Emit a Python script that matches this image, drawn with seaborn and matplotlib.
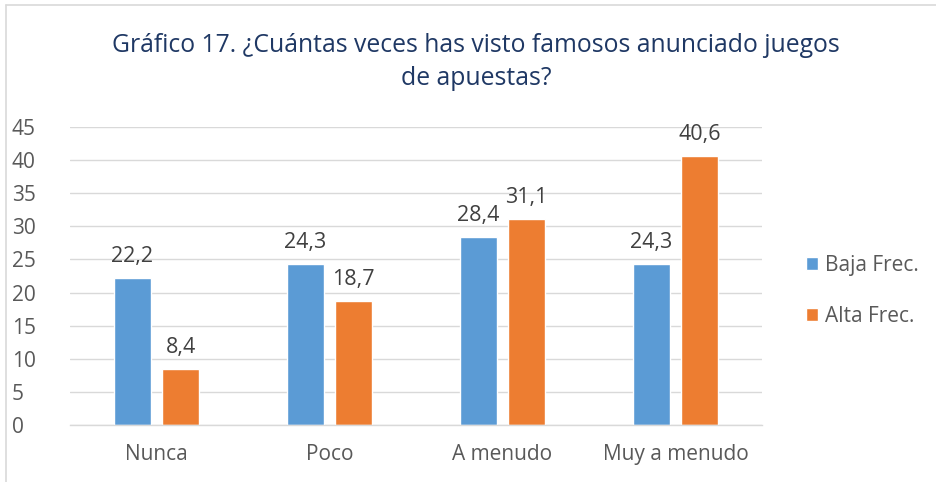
import matplotlib
matplotlib.use("Agg")
import matplotlib.pyplot as plt
import seaborn as sns
import pandas as pd
from matplotlib.lines import Line2D

categories = ["Nunca", "Poco", "A menudo", "Muy a menudo"]
series_names = ["Baja Frec.", "Alta Frec."]
baja = [22.2, 24.3, 28.4, 24.3]
alta = [8.4, 18.7, 31.1, 40.6]
yticks = [0, 5, 10, 15, 20, 25, 30, 35, 40, 45]

df = pd.DataFrame({
    "cat": categories * 2,
    "serie": [series_names[0]] * 4 + [series_names[1]] * 4,
    "val": baja + alta,
})

sns.set_theme(style="white")
plt.rcParams["font.family"] = ["Open Sans", "DejaVu Sans"]

fig = plt.figure(figsize=(9.36, 4.82), dpi=100)
ax = fig.add_axes([70 / 936, 1 - 425 / 482, (762 - 70) / 936, (425 - 127) / 482])

palette = {series_names[0]: "#5B9BD5", series_names[1]: "#ED7D31"}
sns.barplot(data=df, x="cat", y="val", hue="serie", order=categories,
            hue_order=series_names, palette=palette, width=0.56, gap=0.225,
            saturation=1, ax=ax, legend=True)

ax.set_ylim(0, 45)
ax.set_xlim(-0.5, 3.5)
ax.set_yticks(yticks)
ax.set_yticklabels([str(t) for t in yticks])
ax.yaxis.grid(True, color="#D9D9D9", linewidth=1)
ax.set_axisbelow(True)
for s in ["top", "right", "left"]:
    ax.spines[s].set_visible(False)
ax.spines["bottom"].set_color("#D9D9D9")
ax.spines["bottom"].set_linewidth(1)
ax.tick_params(axis="both", length=0, labelsize=15, colors="#595959")
ax.tick_params(axis="y", pad=42)
for lab in ax.get_yticklabels():
    lab.set_horizontalalignment("left")
ax.tick_params(axis="x", pad=14)
ax.set_xlabel("")
ax.set_ylabel("")

for cont in ax.containers:
    labels = [f"{v:.1f}".replace(".", ",") for v in cont.datavalues]
    ax.bar_label(cont, labels=labels, padding=8, fontsize=15.5, color="#404040")

leg = ax.legend(loc="center left", bbox_to_anchor=(1.036, 0.45), frameon=False,
                fontsize=15, handlelength=0.6, handleheight=0.6,
                labelspacing=1.45, handletextpad=0.35, labelcolor="#595959")

fig.text(476 / 936, 1 - 62 / 482,
         "Gráfico 17. ¿Cuántas veces has visto famosos anunciado juegos\nde apuestas?",
         ha="center", va="center", fontsize=17.8, color="#1F3864",
         linespacing=1.4)

fig.add_artist(Line2D([6 / 936, 6 / 936], [0, 1 - 5 / 482], transform=fig.transFigure,
                      color="#D9D9D9", linewidth=1.2))
fig.add_artist(Line2D([6 / 936, 1], [1 - 5 / 482, 1 - 5 / 482], transform=fig.transFigure,
                      color="#D9D9D9", linewidth=1.2))

fig.savefig("out.png", dpi=100, facecolor="white")
